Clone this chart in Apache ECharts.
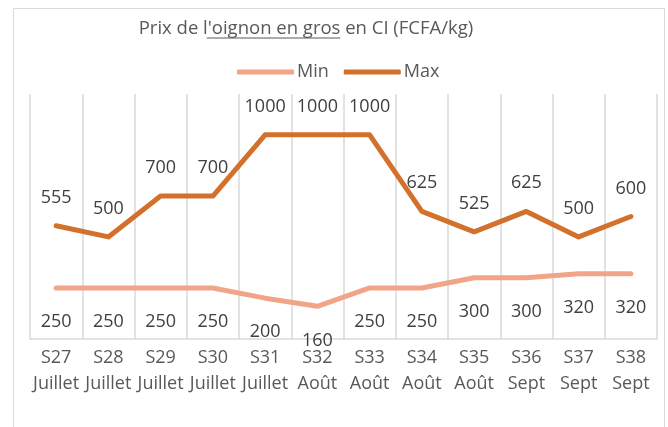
<!DOCTYPE html>
<html>
<head>
<meta charset="utf-8">
<script src="https://cdn.jsdelivr.net/npm/echarts@6/dist/echarts.min.js"></script>
<style>
html,body{margin:0;padding:0;background:#fff;}
#c{width:668px;height:427px;}
</style>
</head>
<body>
<div id="c"></div>
<script>
const weeks = ['S27','S28','S29','S30','S31','S32','S33','S34','S35','S36','S37','S38'];
const months = ['Juillet','Juillet','Juillet','Juillet','Juillet','Août','Août','Août','Août','Sept','Sept','Sept'];
const minValues = [250,250,250,250,200,160,250,250,300,300,320,320];
const maxValues = [555,500,700,700,1000,1000,1000,625,525,625,500,600];

const titlePrefix = "Prix de l'";
const titleUnderlined = "oignon en gros ";
const titleSuffix = "en CI (FCFA/kg)";
const titleText = titlePrefix + titleUnderlined + titleSuffix;

const categories = weeks.map((w,i)=>w+'\n'+months[i]);
const FONT = 'Open Sans';
const TITLE_SIZE = 18.5;
const TITLE_CX = 301;

// measure for underline decoration
const mctx = document.createElement('canvas').getContext('2d');
mctx.font = TITLE_SIZE + 'px "' + FONT + '"';
const fullW = mctx.measureText(titleText).width;
const preW = mctx.measureText(titlePrefix).width;
const ulW = mctx.measureText(titleUnderlined).width;
const ulX1 = TITLE_CX - fullW/2 + preW;
const ulX2 = ulX1 + ulW;

const chart = echarts.init(document.getElementById('c'), null, {renderer:'canvas'});
chart.setOption({
  animation:false,
  backgroundColor:'#fff',
  textStyle:{fontFamily:FONT},
  title:{
    text:titleText,
    left:TITLE_CX, top:14, textAlign:'center',
    textStyle:{fontFamily:FONT,fontSize:TITLE_SIZE,fontWeight:'normal',color:'#595959'}
  },
  legend:{
    data:['Min','Max'],
    left:232, top:58,
    itemWidth:57, itemHeight:5, itemGap:15,
    icon:'roundRect',
    textStyle:{fontFamily:FONT,fontSize:18,color:'#595959',padding:[0,0,0,-2]}
  },
  graphic:[
    {type:'rect',shape:{x:13.5,y:8.5,width:651,height:440},style:{fill:'none',stroke:'#d9d9d9',lineWidth:1},silent:true,z:-1},
    {type:'line',shape:{x1:ulX1,y1:38,x2:ulX2,y2:38},style:{stroke:'#595959',lineWidth:1},silent:true}
  ],
  grid:{left:30,right:11,top:94,bottom:88},
  xAxis:{
    type:'category',
    data:categories,
    boundaryGap:true,
    axisLine:{lineStyle:{color:'#d9d9d9',width:1.5}},
    axisTick:{show:false},
    splitLine:{show:true,lineStyle:{color:'#d9d9d9',width:1.5}},
    axisLabel:{interval:0,fontFamily:FONT,fontSize:18,color:'#595959',lineHeight:26,margin:6}
  },
  yAxis:{
    type:'value',min:0,max:1200,
    show:true,
    axisLine:{show:false},axisTick:{show:false},axisLabel:{show:false},
    splitLine:{show:false}
  },
  series:[
    {
      name:'Min',type:'line',data:minValues,
      symbol:'circle',symbolSize:0.1,showSymbol:true,
      lineStyle:{color:'#F2A488',width:5,cap:'round',join:'round'},
      itemStyle:{color:'#F2A488'},
      label:{show:true,position:'bottom',distance:25,fontFamily:FONT,fontSize:18,color:'#404040'}
    },
    {
      name:'Max',type:'line',data:maxValues,
      symbol:'circle',symbolSize:0.1,showSymbol:true,
      lineStyle:{color:'#D2702C',width:5,cap:'round',join:'round'},
      itemStyle:{color:'#D2702C'},
      label:{show:true,position:'top',distance:19,fontFamily:FONT,fontSize:18,color:'#404040'}
    }
  ]
});
</script>
</body>
</html>
